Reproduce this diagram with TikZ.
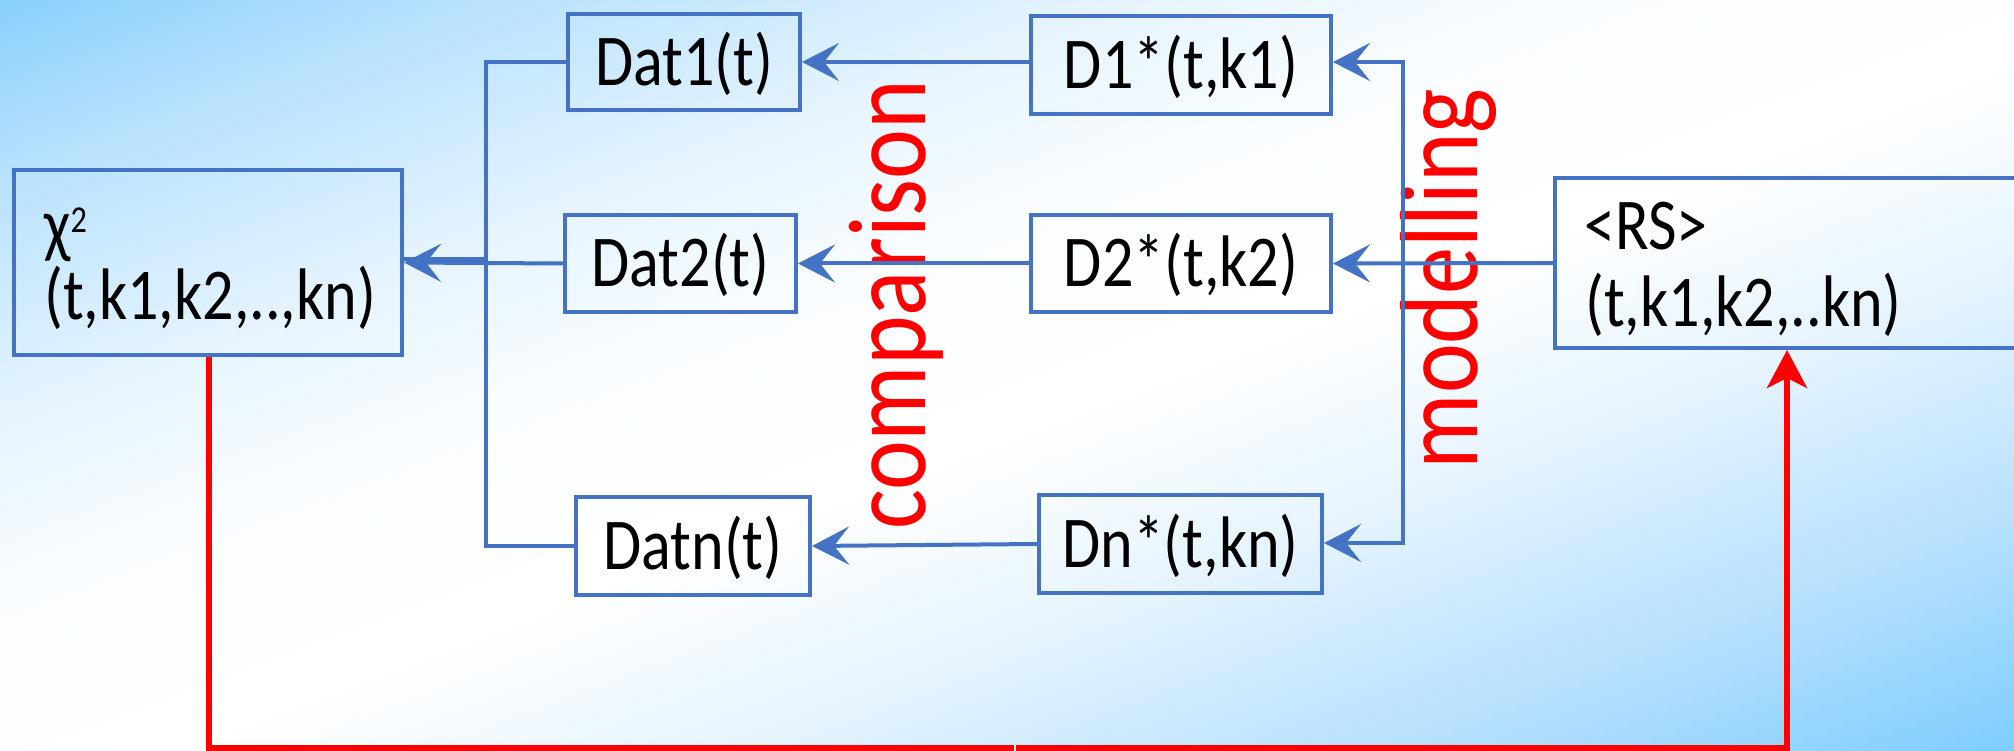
\documentclass[tikz,border=0pt]{standalone}
\usepackage{fontspec}
\setmainfont{Carlito}[FakeStretch=0.85]
\usetikzlibrary{arrows.meta}

\definecolor{skyA}{RGB}{137,208,252}
\definecolor{skyB}{RGB}{126,205,255}
\definecolor{skyA1}{RGB}{184,226,253}
\definecolor{skyB1}{RGB}{181,224,253}
\definecolor{paleA}{RGB}{230,244,255}
\definecolor{paleB}{RGB}{250,253,255}
\definecolor{linkblue}{HTML}{4472C4}
\definecolor{flowred}{HTML}{FF0000}

% diagonal sky gradient: blue corners top-left and bottom-right, broad white band between
\pgfdeclarehorizontalshading{bgsky}{100bp}{color(0bp)=(skyA); color(25bp)=(skyA); color(31bp)=(skyA1); color(39bp)=(paleA); color(45bp)=(paleB); color(52bp)=(white); color(59bp)=(paleA); color(67.5bp)=(skyB1); color(75bp)=(skyB); color(100bp)=(skyB)}

\newcommand\boxfont{\fontsize{73}{80}\selectfont}
\newcommand\bigfont{\fontsize{111}{113}\selectfont}

\tikzset{
  box/.style={draw=linkblue, line width=4pt, inner sep=0pt, font=\boxfont,
    text height=47pt, text depth=0pt},
  frame/.style={draw=linkblue, line width=4pt, inner sep=0pt},
  lbl/.style={inner sep=0pt, font=\boxfont, anchor=base west},
  vlabel/.style={inner sep=0pt, font=\bigfont, text=flowred, rotate=90, anchor=base},
  wire/.style={draw=linkblue, line width=4pt},
  link/.style={wire, -{Stealth[length=37pt,width=38pt,inset=15pt]}},
  dlink/.style={wire, {Stealth[length=37pt,width=38pt,inset=15pt]}-{Stealth[length=37pt,width=38pt,inset=15pt]}},
  redline/.style={draw=flowred, line width=6pt},
}

\begin{document}
\begin{tikzpicture}[x=1pt, y=-1pt]
\useasboundingbox (0,0) rectangle (2014,751);

% background
\begin{scope}[transform canvas={cm={20.14,0,-20.14,-7.51,(0,0)}}]
  \shade[shading=bgsky] (0pt,0pt) rectangle (200pt,100pt);
\end{scope}

% boxes
\node[frame, minimum width=388pt, minimum height=185pt] (chi) at (208,262.5) {};
\node[box, minimum width=232pt, minimum height=96pt] (dat1) at (684,62) {Dat1(t)};
\node[box, minimum width=231pt, minimum height=97pt] (dat2) at (680.5,263.5) {Dat2(t)};
\node[box, minimum width=234pt, minimum height=98pt] (datn) at (693,546) {Datn(t)};
\node[box, minimum width=300pt, minimum height=98pt] (d1) at (1181,65) {D1*(t,k1)};
\node[box, minimum width=300pt, minimum height=97pt] (d2) at (1181,263.5) {D2*(t,k2)};
\node[box, minimum width=283pt, minimum height=98pt] (dn) at (1180.5,544) {Dn*(t,kn)};
\node[frame, minimum width=500pt, minimum height=170pt] (rs) at (1805,263) {};

% box texts
\node[lbl] (chiA) at (44,250) {χ\raisebox{17pt}{\fontsize{38}{38}\selectfont 2}};
\node[lbl] (chiB) at (44,320) {(t,k1,k2,..,kn)};
\node[lbl] (rsA) at (1584,250) {<RS>};
\node[lbl] (rsB) at (1585,327) {(t,k1,k2,..kn)};

% vertical captions
\node[vlabel] (cmp) at (925,305) {comparison};
\node[vlabel] (mdl) at (1477,279) {modelling};

% bus coordinates
\coordinate (lbtop) at (486,62);
\coordinate (lbmid) at (486,259);
\coordinate (lbbot) at (486,546);
\coordinate (rbtop) at (1403,62);
\coordinate (rbbot) at (1403,543);

% modelling side
\draw[link] (rs.west) -- (d2.east);
\draw[dlink] (d1.east |- rbtop) -- (rbtop) -- (rbbot) -- (dn.east |- rbbot);

% comparison side
\draw[link] (d1.west |- dat1.east) -- (dat1.east);
\draw[link] (d2.west) -- (dat2.east);
\draw[link] (dn.west) -- (datn.east);

% collection into chi^2
\draw[wire] (dat1.west) -- (lbtop) -- (lbbot) -- (datn.west);
\draw[wire] (lbmid) -- (chi.east |- lbmid);
\draw[link] (dat2.west) -- (chi.east);

% feedback loop
\coordinate (rb1) at (209,748);
\coordinate (gapL) at (1014,748);
\coordinate (gapR) at (1016,748);
\coordinate (rb2) at (1787,748);
\draw[redline] (chi.south -| rb1) -- (rb1) -- (gapL);
\draw[redline, -{Stealth[length=38pt,width=40pt,inset=10pt]}] (gapR) -- (rb2) -- (rs.south -| rb2);
\end{tikzpicture}
\end{document}
